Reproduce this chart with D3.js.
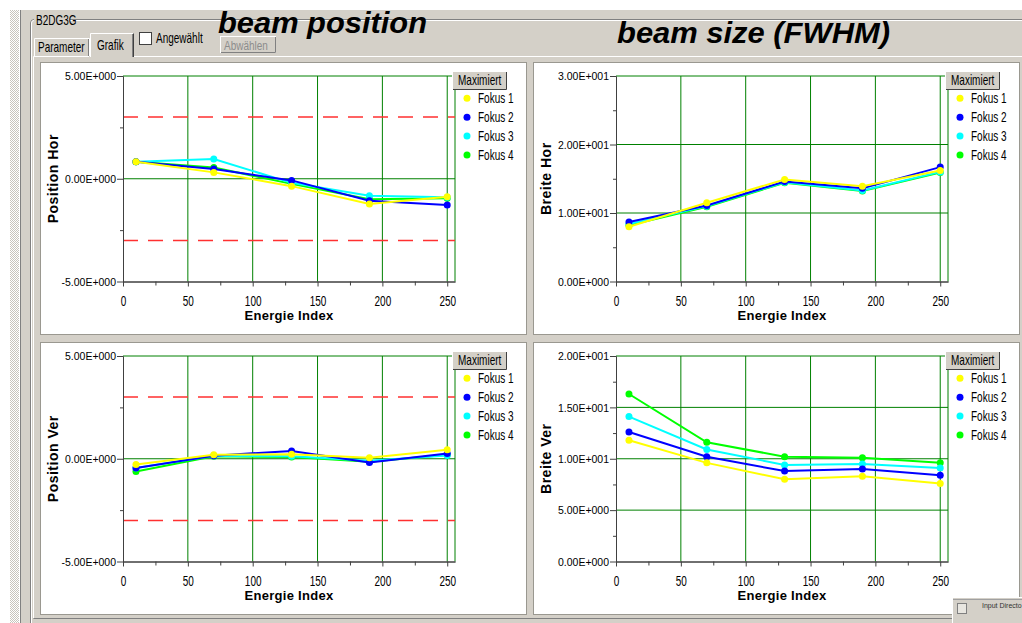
<!DOCTYPE html>
<html>
<head>
<meta charset="utf-8">
<script src="https://cdn.jsdelivr.net/npm/d3@7"></script>
<style>
  body { margin: 0; background: #fff; }
  svg { display: block; font-family: "Liberation Sans", Arial, sans-serif; }
</style>
</head>
<body>
<script>
// ---- data ----
var energyIndex = [10, 70, 130, 190, 250];
var fokusNames = ["Fokus 1", "Fokus 2", "Fokus 3", "Fokus 4"];

// Position Hor, one row per Fokus
var posHor = [
  [0.83, 0.31, -0.36, -1.23, -0.88],
  [0.83, 0.47, -0.08, -1.07, -1.28],
  [0.83, 0.96, -0.20, -0.83, -0.90],
  [0.83, 0.55, -0.25, -1.00, -0.95]
];
// Breite Hor
var breiteHor = [
  [8.0, 11.5, 14.9, 13.9, 16.2],
  [8.7, 11.1, 14.6, 13.6, 16.7],
  [8.4, 11.0, 14.5, 13.3, 16.0],
  [8.2, 10.9, 14.4, 13.2, 15.9]
];
// Position Ver
var posVer = [
  [-0.28, 0.19, 0.22, 0.05, 0.44],
  [-0.45, 0.15, 0.38, -0.18, 0.25],
  [-0.45, 0.14, 0.12, -0.10, 0.16],
  [-0.62, 0.12, 0.08, -0.15, 0.20]
];
// Breite Ver
var breiteVer = [
  [11.8, 9.6, 8.0, 8.3, 7.6],
  [12.6, 10.2, 8.8, 9.0, 8.4],
  [14.1, 10.9, 9.4, 9.5, 9.1],
  [16.3, 11.6, 10.2, 10.1, 9.6]
];

var xTicks = [0, 50, 100, 150, 200, 250];
var xMinor = [25, 75, 125, 175, 225];
var posTicks = [-5, 0, 5];
var posMinor = [-2.5, 2.5];
var breiteHorTicks = [0, 10, 20, 30];
var breiteHorMinor = [5, 15, 25];
var breiteVerTicks = [0, 5, 10, 15, 20];
var breiteVerMinor = [2.5, 7.5, 12.5, 17.5];
var posLimits = [3, -3];

var fokusColors = ["#ffff00", "#0000ff", "#00ffff", "#00ff00"];
var gridColor = "#008000";
var winGray = "#d4d0c8";

// "5.00E+000" style labels
function sciFmt(v) {
  var parts = v.toExponential(2).split("e");
  var e = +parts[1];
  var es = (e < 0 ? "-" : "+") + String(Math.abs(e)).padStart(3, "0");
  return parts[0] + "E" + es;
}

var svg = d3.select("body").append("svg")
  .attr("width", 1022)
  .attr("height", 623);

// window background
svg.append("rect").attr("x", 20).attr("y", 10).attr("width", 1002).attr("height", 613).attr("fill", winGray);

var pat = svg.append("defs").append("pattern")
  .attr("id", "hatch").attr("width", 2).attr("height", 2).attr("patternUnits", "userSpaceOnUse");
pat.append("rect").attr("width", 2).attr("height", 2).attr("fill", "#ffffff");
pat.append("rect").attr("width", 1).attr("height", 1).attr("fill", "#c8c4bc");
pat.append("rect").attr("x", 1).attr("y", 1).attr("width", 1).attr("height", 1).attr("fill", "#c8c4bc");
svg.append("rect").attr("x", 10).attr("y", 10).attr("width", 9).attr("height", 613).attr("fill", "url(#hatch)");
svg.append("line").attr("x1", 20.5).attr("x2", 20.5).attr("y1", 10).attr("y2", 623).attr("stroke", "#808080");

// group box
svg.append("path")
  .attr("d", "M1022,19.5 H34 Q30.5,19.5 30.5,23 V623")
  .attr("fill", "none").attr("stroke", "#808080");
svg.append("path")
  .attr("d", "M1022,20.5 H34 Q31.5,20.5 31.5,23 V623")
  .attr("fill", "none").attr("stroke", "#ffffff");
svg.append("rect").attr("x", 34).attr("y", 13).attr("width", 36).attr("height", 12).attr("fill", winGray);

function smallText(x, y, txt, color, sy) {
  return svg.append("text")
    .attr("transform", "translate(" + x + "," + y + ") scale(1," + (sy || 1.4) + ")")
    .attr("font-size", 10).attr("fill", color || "#000").text(txt);
}
smallText(36, 25, "B2DG3G");

// tab page frame
svg.append("path").attr("d", "M33.5,618 V56.5 H89 M134,56.5 H1022").attr("fill", "none").attr("stroke", "#fff");
svg.append("path").attr("d", "M33.5,618.5 H1022").attr("fill", "none").attr("stroke", "#808080");
// tabs
svg.append("path").attr("d", "M34.5,56 V38.5 H89.5 V56").attr("fill", winGray).attr("stroke", "#fff");
svg.append("line").attr("x1", 88.5).attr("x2", 88.5).attr("y1", 39).attr("y2", 56).attr("stroke", "#808080");
svg.append("path").attr("d", "M90.5,57 V33.5 H133.5").attr("fill", winGray).attr("stroke", "#fff");
svg.append("path").attr("d", "M133.5,33.5 V57").attr("fill", "none").attr("stroke", "#404040");
svg.append("line").attr("x1", 132.5).attr("x2", 132.5).attr("y1", 34).attr("y2", 57).attr("stroke", "#808080");
smallText(38, 52, "Parameter");
smallText(97, 50, "Grafik");
// checkbox
svg.append("rect").attr("x", 139.5).attr("y", 32.5).attr("width", 12).attr("height", 12).attr("fill", "#fff").attr("stroke", "#404040");
smallText(156, 43, "Angewählt");
// disabled button
svg.append("rect").attr("x", 220.5).attr("y", 36.5).attr("width", 55).attr("height", 16).attr("fill", winGray).attr("stroke", "#fff");
svg.append("path").attr("d", "M221,52.5 H275.5 V37").attr("fill", "none").attr("stroke", "#808080");
smallText(224, 50, "Abwählen", "#8c8c8c", 1.3);

// titles
svg.append("text").attr("x", 218).attr("y", 33).attr("font-size", 30)
  .attr("font-weight", "bold").attr("font-style", "italic")
  .attr("textLength", 209).attr("lengthAdjust", "spacingAndGlyphs")
  .text("beam position");
svg.append("text").attr("x", 617).attr("y", 43).attr("font-size", 30)
  .attr("font-weight", "bold").attr("font-style", "italic")
  .attr("textLength", 273).attr("lengthAdjust", "spacingAndGlyphs")
  .text("beam size (FWHM)");

// ---- the four charts ----
var charts = [
  { px: 40,  py: 62,  label: "Position Hor", domain: [-5, 5],  ticks: posTicks,       minor: posMinor,       values: posHor,    limits: posLimits },
  { px: 533, py: 62,  label: "Breite Hor",   domain: [0, 30],  ticks: breiteHorTicks, minor: breiteHorMinor, values: breiteHor, limits: [] },
  { px: 40,  py: 342, label: "Position Ver", domain: [-5, 5],  ticks: posTicks,       minor: posMinor,       values: posVer,    limits: posLimits },
  { px: 533, py: 342, label: "Breite Ver",   domain: [0, 20],  ticks: breiteVerTicks, minor: breiteVerMinor, values: breiteVer, limits: [] }
];

charts.forEach(function(c) {
  var g = svg.append("g").attr("transform", "translate(" + c.px + "," + c.py + ")");

  // panel
  g.append("rect").attr("x", 0.5).attr("y", 0.5).attr("width", 486).attr("height", 272)
    .attr("fill", "#fff").attr("stroke", "#9a9890");

  var x = d3.scaleLinear().domain([0, 256]).range([83, 415]);
  var y = d3.scaleLinear().domain(c.domain).range([219.5, 14]);

  // grid
  g.selectAll("line.vgrid").data(xTicks.slice(1).concat([256])).enter().append("line")
    .attr("x1", function(d) { return x(d); }).attr("x2", function(d) { return x(d); })
    .attr("y1", y.range()[1]).attr("y2", y.range()[0])
    .attr("stroke", gridColor).attr("stroke-width", 1);
  g.selectAll("line.hgrid").data(c.ticks.slice(1)).enter().append("line")
    .attr("x1", x(0)).attr("x2", x(256))
    .attr("y1", function(d) { return y(d); }).attr("y2", function(d) { return y(d); })
    .attr("stroke", gridColor).attr("stroke-width", 1);

  // limit lines
  g.selectAll("line.limit").data(c.limits).enter().append("line")
    .attr("x1", x(0)).attr("x2", x(256))
    .attr("y1", function(d) { return y(d); }).attr("y2", function(d) { return y(d); })
    .attr("stroke", "#ff3030").attr("stroke-width", 1.5)
    .attr("stroke-dasharray", "15,10");

  // axes
  var yAxis = g.append("g").attr("transform", "translate(" + x(0) + ",0)")
    .call(d3.axisLeft(y).tickValues(c.ticks).tickSize(6).tickSizeOuter(0).tickPadding(1).tickFormat(sciFmt));
  g.append("g").attr("transform", "translate(" + x(0) + ",0)")
    .call(d3.axisLeft(y).tickValues(c.minor).tickSize(3).tickSizeOuter(0).tickFormat(""));
  yAxis.selectAll("text").attr("font-size", 10.5).attr("fill", "#000")
    .attr("font-family", "Liberation Sans, Arial, sans-serif")
    .attr("transform", "scale(1,1.1)");

  var xAxis = g.append("g").attr("transform", "translate(0," + y.range()[0] + ")")
    .call(d3.axisBottom(x).tickValues(xTicks).tickSize(5).tickSizeOuter(0));
  g.append("g").attr("transform", "translate(0," + y.range()[0] + ")")
    .call(d3.axisBottom(x).tickValues(xMinor).tickSize(4).tickSizeOuter(0).tickFormat(""));
  xAxis.selectAll("text").attr("font-size", 10).attr("fill", "#000")
    .attr("font-family", "Liberation Sans, Arial, sans-serif")
    .attr("transform", "scale(1,1.5)").attr("y", 9.5);

  g.selectAll(".domain, .tick line").attr("stroke", "#404040");

  // axis titles
  g.append("text").attr("x", (x(0) + x(256)) / 2).attr("y", 258)
    .attr("text-anchor", "middle").attr("font-size", 13).attr("font-weight", "bold")
    .attr("letter-spacing", 0.3).text("Energie Index");
  g.append("text")
    .attr("transform", "translate(18," + ((y.range()[0] + y.range()[1]) / 2) + ") rotate(-90)")
    .attr("text-anchor", "middle").attr("font-size", 14).attr("font-weight", "bold")
    .attr("letter-spacing", 0.5).text(c.label);

  // series, Fokus 1 drawn last so it sits on top
  var line = d3.line()
    .x(function(d, i) { return x(energyIndex[i]); })
    .y(function(d) { return y(d); });
  [3, 2, 1, 0].forEach(function(k) {
    g.append("path").datum(c.values[k])
      .attr("d", line).attr("fill", "none")
      .attr("stroke", fokusColors[k]).attr("stroke-width", 2);
    g.selectAll("circle.f" + k).data(c.values[k]).enter().append("circle")
      .attr("cx", function(d, i) { return x(energyIndex[i]); })
      .attr("cy", function(d) { return y(d); })
      .attr("r", 3.5).attr("fill", fokusColors[k]);
  });

  // Maximiert button
  g.append("rect").attr("x", 412.5).attr("y", 9.5).attr("width", 54).attr("height", 18)
    .attr("fill", winGray).attr("stroke", "#fff");
  g.append("path").attr("d", "M413,27.5 H466.5 V10").attr("fill", "none").attr("stroke", "#404040");
  g.append("text").attr("transform", "translate(418,23) scale(1,1.4)")
    .attr("font-size", 10).text("Maximiert");

  // legend
  var leg = g.selectAll("g.leg").data(fokusNames).enter().append("g")
    .attr("transform", function(d, i) { return "translate(427," + (36.3 + i * 18.9) + ")"; });
  leg.append("circle").attr("r", 3.5).attr("fill", function(d, i) { return fokusColors[i]; });
  leg.append("text").attr("transform", "translate(11,5) scale(1,1.45)")
    .attr("font-size", 10).text(function(d) { return d; });
});

// small "Input Directory" window in the corner
svg.append("rect").attr("x", 952.5).attr("y", 597.5).attr("width", 70).attr("height", 26)
  .attr("fill", winGray).attr("stroke", "#fff");
svg.append("line").attr("x1", 953).attr("x2", 1022).attr("y1", 599.5).attr("y2", 599.5).attr("stroke", "#a0a0a0");
svg.append("rect").attr("x", 957.5).attr("y", 603.5).attr("width", 9).attr("height", 10)
  .attr("fill", "#e8e6e0").attr("stroke", "#808080");
svg.append("text").attr("x", 982).attr("y", 608).attr("font-size", 7).attr("fill", "#333").text("Input Directo");
</script>
</body>
</html>
